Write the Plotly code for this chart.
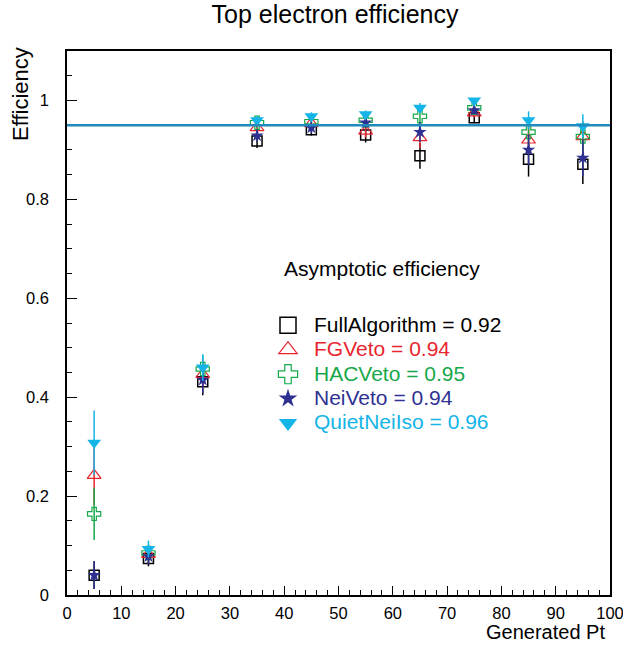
import plotly.graph_objects as go

# ---- data ----
pt = [5, 15, 25, 35, 45, 55, 65, 75, 85, 95]

full_eff = [0.040, 0.074, 0.431, 0.918, 0.941, 0.930, 0.888, 0.965, 0.881, 0.871]
full_err = [0.028, 0.016, 0.027, 0.014, 0.012, 0.015, 0.026, 0.011, 0.035, 0.040]

fg_eff = [0.242, 0.082, 0.446, 0.945, 0.953, 0.938, 0.925, 0.975, 0.920, 0.927]
fg_err = [0.060, 0.017, 0.027, 0.011, 0.010, 0.013, 0.021, 0.009, 0.028, 0.030]

hac_eff = [0.164, 0.085, 0.457, 0.955, 0.957, 0.960, 0.968, 0.985, 0.936, 0.927]
hac_err = [0.053, 0.017, 0.027, 0.010, 0.010, 0.010, 0.014, 0.007, 0.025, 0.030]

nei_eff = [0.040, 0.078, 0.435, 0.929, 0.945, 0.955, 0.936, 0.980, 0.900, 0.884]
nei_err = [0.028, 0.016, 0.027, 0.012, 0.011, 0.011, 0.020, 0.008, 0.031, 0.037]

quiet_eff = [0.308, 0.093, 0.460, 0.960, 0.968, 0.972, 0.985, 1.000, 0.960, 0.948]
quiet_err = [0.065, 0.017, 0.027, 0.009, 0.008, 0.008, 0.010, 0.005, 0.018, 0.024]

series_names = ["FullAlgorithm", "FGVeto", "HACVeto", "NeiVeto", "QuietNeiIso"]
asymptotic = [0.92, 0.94, 0.95, 0.94, 0.96]
reference_eff = 0.95

FONT = "Liberation Sans, Arial, Helvetica, sans-serif"

styles = [
    dict(color="#000000", symbol="square-open", size=10, lw=1.5, lsize=16),
    dict(color="#e8252f", symbol="triangle-up-open", size=12, lw=1.2, lsize=16),
    dict(color="#17a84a", symbol="cross-open", size=11, lw=1.2, lsize=16),
    dict(color="#2e3192", symbol="star", size=10, lw=0, lsize=14),
    dict(color="#14b4e6", symbol="triangle-down", size=12, lw=0, lsize=16),
]

effs = [full_eff, fg_eff, hac_eff, nei_eff, quiet_eff]
errs = [full_err, fg_err, hac_err, nei_err, quiet_err]

fig = go.Figure()

for name, a, eff, err, st in zip(series_names, asymptotic, effs, errs, styles):
    fig.add_trace(go.Scatter(
        x=pt, y=eff, mode="markers", showlegend=False,
        error_y=dict(type="data", array=err, visible=True, color=st["color"],
                     thickness=1.5, width=0),
        marker=dict(symbol=st["symbol"], size=st["size"], color=st["color"],
                    line=dict(color=st["color"], width=st["lw"])),
    ))

# legend entries
for name, a, st in zip(series_names, asymptotic, styles):
    fig.add_trace(go.Scatter(
        x=[None], y=[None], mode="markers",
        name=f"<span style='color:{st['color']};font-size:21px'>{name} = {a:.2f}</span>",
        marker=dict(symbol=st["symbol"], size=st["lsize"], color=st["color"],
                    line=dict(color=st["color"], width=st["lw"])),
    ))

fig.add_shape(type="line", xref="paper", x0=0, x1=1, yref="y",
              y0=reference_eff, y1=reference_eff,
              line=dict(color="#2089bd", width=2.5), layer="above")

fig.add_annotation(text="Asymptotic efficiency", xref="paper", yref="paper",
                   x=(282 - 67) / 543, y=1 - (268 - 51) / 544,
                   xanchor="left", yanchor="middle", showarrow=False,
                   font=dict(size=21, color="black", family=FONT))

fig.add_annotation(text="Efficiency", xref="paper", yref="paper",
                   x=-(67 - 20) / 543, y=1 - (94 - 51) / 544, textangle=-90,
                   xanchor="center", yanchor="middle", showarrow=False,
                   font=dict(size=22, color="black", family=FONT))

fig.add_annotation(text="Generated Pt", xref="paper", yref="paper",
                   x=(607 - 67) / 543, y=-(632 - 595) / 544,
                   xanchor="right", yanchor="middle", showarrow=False,
                   font=dict(size=20, color="black", family=FONT))

axis_common = dict(showline=True, linecolor="black", linewidth=1.5, mirror=True,
                   ticks="inside", tickcolor="black", tickwidth=1.2,
                   showgrid=False, zeroline=False, automargin=False,
                   ticklabeloverflow="allow",
                   tickfont=dict(size=16.5, color="black", family=FONT))

fig.update_xaxes(range=[0, 100], dtick=10, tick0=0, ticklen=9,
                 minor=dict(ticks="inside", dtick=2, ticklen=5, tickcolor="black",
                            tickwidth=1.2, showgrid=False),
                 ticklabelstandoff=2, **axis_common)
fig.update_yaxes(range=[0, 1.1], dtick=0.2, tick0=0, ticklen=10,
                 minor=dict(ticks="inside", dtick=0.05, ticklen=5, tickcolor="black",
                            tickwidth=1.2, showgrid=False),
                 ticklabelstandoff=13, **axis_common)

fig.update_layout(
    width=623, height=646,
    margin=dict(l=67, r=13, t=51, b=51, autoexpand=False),
    paper_bgcolor="white", plot_bgcolor="white",
    font=dict(family=FONT, color="black"),
    title=dict(text="Top electron efficiency", x=(335 - 67) / 543, xref="paper",
               xanchor="center",
               y=1 - 14 / 646, yref="container", yanchor="middle",
               font=dict(size=25, color="black", family=FONT)),
    legend=dict(x=(262 - 67) / 543, y=1 - (308 - 51) / 544,
                xanchor="left", yanchor="top", bgcolor="rgba(0,0,0,0)",
                font=dict(size=16.5, family=FONT), tracegroupgap=0,
                itemwidth=42),
    showlegend=True,
)

fig.write_html("out.html")
